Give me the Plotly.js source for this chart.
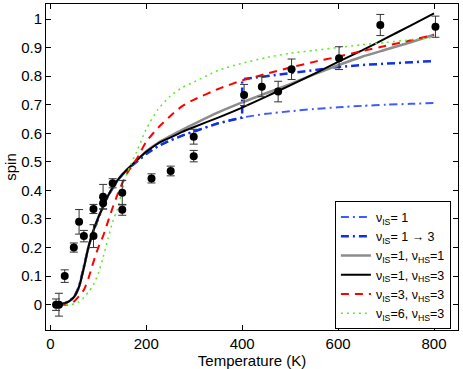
<!DOCTYPE html>
<html>
<head>
<meta charset="utf-8">
<script src="https://cdn.plot.ly/plotly-3.0.1.min.js"></script>
<style>
  html, body { margin: 0; padding: 0; background: #fff; }
  #chart { width: 463px; height: 369px; }
</style>
</head>
<body>
<div id="chart"></div>
<script>
// measured points (temperature, spin, error)
const tempData = [12, 18, 30, 49, 60, 70, 90, 90, 110, 110, 130, 150, 150, 211, 251, 299, 299, 404, 441, 475, 503, 602, 688, 803];
const spinData = [0.0, 0.0, 0.10, 0.20, 0.29, 0.24, 0.335, 0.24, 0.378, 0.355, 0.425, 0.392, 0.332, 0.442, 0.468, 0.588, 0.52, 0.734, 0.763, 0.746, 0.824, 0.863, 0.979, 0.973];
const spinErr = [0.02, 0.04, 0.022, 0.016, 0.043, 0.02, 0.016, 0.04, 0.043, 0.02, 0.016, 0.043, 0.019, 0.016, 0.017, 0.026, 0.02, 0.037, 0.035, 0.036, 0.036, 0.04, 0.037, 0.037];

// model curves
const tCurve = [20, 30, 40, 50, 60, 70, 80, 90, 100, 110, 120, 130, 140, 150, 160, 180, 200, 225, 250, 275, 300, 350, 400, 450, 500, 550, 600, 650, 700, 750, 800];
const spinIS1 = [0.0, 0.005, 0.013, 0.028, 0.063, 0.13, 0.205, 0.26, 0.305, 0.343, 0.38, 0.41, 0.435, 0.455, 0.472, 0.5, 0.528, 0.555, 0.575, 0.592, 0.607, 0.635, 0.655, 0.668, 0.677, 0.685, 0.691, 0.696, 0.7, 0.703, 0.706];
const tStep = [20, 30, 40, 50, 60, 70, 80, 90, 100, 110, 120, 130, 140, 150, 160, 180, 200, 225, 250, 275, 300, 350, 400, 400, 450, 500, 550, 600, 650, 700, 750, 800];
const spinIS13 = [0.0, 0.005, 0.013, 0.028, 0.063, 0.13, 0.205, 0.26, 0.305, 0.343, 0.38, 0.41, 0.435, 0.455, 0.472, 0.5, 0.528, 0.555, 0.575, 0.592, 0.607, 0.635, 0.655, 0.789, 0.8, 0.81, 0.82, 0.832, 0.839, 0.844, 0.849, 0.853];
const spinIS1HS1 = [0.0, 0.005, 0.013, 0.028, 0.063, 0.13, 0.205, 0.26, 0.305, 0.343, 0.38, 0.41, 0.435, 0.455, 0.473, 0.505, 0.537, 0.567, 0.59, 0.612, 0.633, 0.673, 0.708, 0.74, 0.772, 0.806, 0.838, 0.868, 0.893, 0.918, 0.945];
const spinIS1HS3 = [0.0, 0.005, 0.013, 0.028, 0.063, 0.13, 0.205, 0.26, 0.305, 0.343, 0.38, 0.41, 0.435, 0.455, 0.473, 0.505, 0.535, 0.565, 0.585, 0.605, 0.622, 0.655, 0.69, 0.728, 0.768, 0.808, 0.85, 0.89, 0.933, 0.976, 1.02];
const spinIS3HS3 = [0.0, 0.0, 0.0, 0.012, 0.03, 0.052, 0.095, 0.15, 0.2, 0.24, 0.29, 0.34, 0.385, 0.425, 0.46, 0.51, 0.57, 0.62, 0.66, 0.695, 0.718, 0.755, 0.785, 0.808, 0.83, 0.85, 0.868, 0.888, 0.906, 0.925, 0.945];
const spinIS6HS3 = [0.0, 0.0, 0.0, 0.003, 0.01, 0.025, 0.045, 0.07, 0.11, 0.165, 0.23, 0.29, 0.335, 0.4, 0.46, 0.535, 0.615, 0.685, 0.73, 0.76, 0.78, 0.82, 0.845, 0.865, 0.88, 0.89, 0.9, 0.91, 0.918, 0.927, 0.936];

const legendNames = [
  'ν<sub>IS</sub>= 1',
  'ν<sub>IS</sub>= 1 → 3',
  'ν<sub>IS</sub>=1, ν<sub>HS</sub>=1',
  'ν<sub>IS</sub>=1, ν<sub>HS</sub>=3',
  'ν<sub>IS</sub>=3, ν<sub>HS</sub>=3',
  'ν<sub>IS</sub>=6, ν<sub>HS</sub>=3'
];

function curve(x, y, name, color, width, dash) {
  return {
    x, y, name,
    type: 'scatter',
    mode: 'lines',
    line: { color, width, dash, shape: 'spline', smoothing: 0.6 }
  };
}

const traces = [
  curve(tCurve, spinIS1, legendNames[0], '#3d5cff', 2, '8px,4px,2px,4px'),
  curve(tStep, spinIS13, legendNames[1], '#1030e6', 2.5, '8px,4px,2px,4px'),
  curve(tCurve, spinIS1HS1, legendNames[2], '#8c8c8c', 2.5, 'solid'),
  curve(tCurve, spinIS1HS3, legendNames[3], '#000000', 2, 'solid'),
  curve(tCurve, spinIS3HS3, legendNames[4], '#ff0000', 2, '8px,6px'),
  curve(tCurve, spinIS6HS3, legendNames[5], '#55ee22', 1.5, '2px,4px'),
  {
    x: tempData,
    y: spinData,
    type: 'scatter',
    mode: 'markers',
    showlegend: false,
    marker: { color: '#000', size: 8 },
    error_y: { type: 'data', array: spinErr, visible: true, color: '#333', thickness: 1, width: 4 }
  }
];

// spline on the step trace would overshoot, keep it linear
traces[1].line.shape = 'linear';

const layout = {
  width: 463,
  height: 369,
  margin: { l: 46, r: 5, t: 4, b: 39 },
  paper_bgcolor: '#fff',
  plot_bgcolor: '#fff',
  font: { family: 'Liberation Sans, Arial, sans-serif', size: 15, color: '#000' },
  showlegend: true,
  legend: {
    x: 0.842, y: 0.198,
    xanchor: 'center', yanchor: 'middle',
    bgcolor: '#fff',
    bordercolor: '#000',
    borderwidth: 1,
    font: { size: 12.5 },
    itemwidth: 30,
    tracegroupgap: 0
  },
  xaxis: {
    title: { text: 'Temperature (K)', font: { size: 15 }, standoff: 2 },
    range: [-9, 850],
    tickvals: [0, 200, 400, 600, 800],
    ticks: 'inside', ticklen: 5, tickcolor: '#000',
    showline: true, linecolor: '#000', linewidth: 1, mirror: 'ticks',
    showgrid: false, zeroline: false
  },
  yaxis: {
    title: { text: 'spin', font: { size: 15 }, standoff: 0 },
    range: [-0.0886, 1.0525],
    tickvals: [0, 0.1, 0.2, 0.3, 0.4, 0.5, 0.6, 0.7, 0.8, 0.9, 1],
    ticks: 'inside', ticklen: 5, tickcolor: '#000',
    showline: true, linecolor: '#000', linewidth: 1, mirror: 'ticks',
    showgrid: false, zeroline: false
  }
};

Plotly.newPlot('chart', traces, layout, { displayModeBar: false, staticPlot: true });
</script>
</body>
</html>
